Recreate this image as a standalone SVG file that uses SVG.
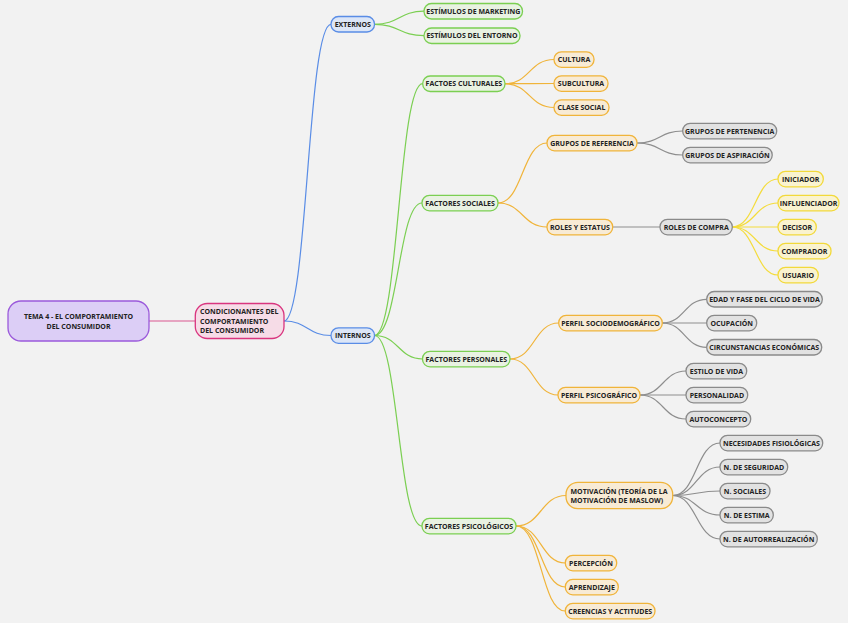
<svg xmlns="http://www.w3.org/2000/svg" width="848" height="623" viewBox="0 0 848 623">
<style>
text{font-family:"Open Sans","Liberation Sans",sans-serif;font-weight:700;font-size:7px;fill:#222;}
.c{text-anchor:middle;}
rect{stroke-width:1.3;}
.purple rect{fill:#dccef6;stroke:#9b5adb;}
.pink rect{fill:#f6dce7;stroke:#d9357f;}
.blue rect{fill:#dce6f7;stroke:#5a8de6;}
.green rect{fill:#e9f2e2;stroke:#7bcf52;}
.orange rect{fill:#f8ebd5;stroke:#f0b43a;}
.gray rect{fill:#e2e2e2;stroke:#8a8a8a;}
.yellow rect{fill:#faf3cf;stroke:#f2d93a;}
#connectors path{fill:none;stroke-width:1.2;}
.lp{stroke:#d9578f;}
.lb{stroke:#5a8de6;}
.lg{stroke:#7bcf52;}
.lo{stroke:#f0b43a;}
.lgr{stroke:#8e8e8e;}
.ly{stroke:#f4dc3c;}
</style>
<rect x="0" y="0" width="848" height="623" fill="#f2f2f2"/>
<g id="connectors">
<path class="lp" d="M149 321 L195.3 321"/>
<path class="lb" d="M284 321 C307.5 321 307.5 24.3 331 24.3"/>
<path class="lb" d="M284 321 C307.5 321 307.5 335.5 331 335.5"/>
<path class="lg" d="M374.5 24.3 C399.3 24.3 399.3 11.2 424 11.2"/>
<path class="lg" d="M374.5 24.3 C399.3 24.3 399.3 35.7 424 35.7"/>
<path class="lg" d="M374.5 335.5 C398.6 335.5 398.6 83.7 422.7 83.7"/>
<path class="lg" d="M374.5 335.5 C398.3 335.5 398.3 203 422 203"/>
<path class="lg" d="M374.5 335.5 C398.5 335.5 398.5 359 422.5 359"/>
<path class="lg" d="M374.5 335.5 C398.3 335.5 398.3 526 422 526"/>
<path class="lo" d="M505 83.7 C529.5 83.7 529.5 59.5 554 59.5"/>
<path class="lo" d="M505 83.7 C529.5 83.7 529.5 83.5 554 83.5"/>
<path class="lo" d="M505 83.7 C529.5 83.7 529.5 107.5 554 107.5"/>
<path class="lo" d="M498 203 C522.5 203 522.5 143 547 143"/>
<path class="lo" d="M498 203 C522.5 203 522.5 227 547 227"/>
<path class="lgr" d="M637 143 C659.9 143 659.9 131 682.7 131"/>
<path class="lgr" d="M637 143 C659.9 143 659.9 155 682.7 155"/>
<path class="lgr" d="M612.7 227 L660 227"/>
<path class="ly" d="M732.3 227 C755.2 227 755.2 179 778 179"/>
<path class="ly" d="M732.3 227 C755.2 227 755.2 203 778 203"/>
<path class="ly" d="M732.3 227 L778 227"/>
<path class="ly" d="M732.3 227 C755.2 227 755.2 251 778 251"/>
<path class="ly" d="M732.3 227 C755.2 227 755.2 275 778 275"/>
<path class="lo" d="M510 359 C534.3 359 534.3 323 558.7 323"/>
<path class="lo" d="M510 359 C534 359 534 395 558 395"/>
<path class="lgr" d="M662.3 323 C684.5 323 684.5 299.3 706.7 299.3"/>
<path class="lgr" d="M662.3 323 L706.7 323"/>
<path class="lgr" d="M662.3 323 C684.5 323 684.5 347.3 706.7 347.3"/>
<path class="lgr" d="M640 395 C663 395 663 371 686 371"/>
<path class="lgr" d="M640 395 L686 395"/>
<path class="lgr" d="M640 395 C663 395 663 419 686 419"/>
<path class="lo" d="M516 526 C541 526 541 495.5 566 495.5"/>
<path class="lo" d="M516 526 C541 526 541 563 565.3 563"/>
<path class="lo" d="M516 526 C541 526 541 587 565.3 587"/>
<path class="lo" d="M516 526 C541 526 541 611 565.3 611"/>
<path class="lgr" d="M672.7 495.5 C696.4 495.5 696.4 443 720 443"/>
<path class="lgr" d="M672.7 495.5 C696.4 495.5 696.4 467 720 467"/>
<path class="lgr" d="M672.7 495.5 C696.4 495.5 696.4 491 720 491"/>
<path class="lgr" d="M672.7 495.5 C696.4 495.5 696.4 515 720 515"/>
<path class="lgr" d="M672.7 495.5 C696.4 495.5 696.4 539 720 539"/>
</g>
<g id="root" class="purple"><rect x="8" y="301" width="141" height="40" rx="13"/><text class="c" x="78.5" y="318.5">TEMA 4 - EL COMPORTAMIENTO</text><text class="c" x="78.5" y="328.5">DEL CONSUMIDOR</text></g>
<g id="condicionantes" class="pink"><rect x="195.3" y="303.5" width="88.7" height="35" rx="12"/><text x="200" y="314">CONDICIONANTES DEL</text><text x="200" y="323.5">COMPORTAMIENTO</text><text x="200" y="332.8">DEL CONSUMIDOR</text></g>
<g id="externos" class="blue"><rect x="331" y="16.5" width="43.5" height="15.5" rx="7.5"/><text class="c" x="352.8" y="26.8">EXTERNOS</text></g>
<g id="internos" class="blue"><rect x="331" y="327.8" width="43.5" height="15.5" rx="7.5"/><text class="c" x="352.8" y="338">INTERNOS</text></g>
<g id="estimulos-marketing" class="green"><rect x="424" y="3.5" width="98.5" height="15.5" rx="7.5"/><text class="c" x="473.3" y="13.7">ESTÍMULOS DE MARKETING</text></g>
<g id="estimulos-entorno" class="green"><rect x="424" y="28" width="96" height="15.5" rx="7.5"/><text class="c" x="472" y="38.2">ESTÍMULOS DEL ENTORNO</text></g>
<g id="factores-culturales" class="green"><rect x="422.7" y="76" width="82.3" height="15.5" rx="7.5"/><text class="c" x="463.9" y="86.2">FACTOES CULTURALES</text></g>
<g id="cultura" class="orange"><rect x="554" y="51.8" width="40" height="15.5" rx="7.5"/><text class="c" x="574" y="62">CULTURA</text></g>
<g id="subcultura" class="orange"><rect x="554" y="75.8" width="54" height="15.5" rx="7.5"/><text class="c" x="581" y="86">SUBCULTURA</text></g>
<g id="clase-social" class="orange"><rect x="554" y="99.8" width="55" height="15.5" rx="7.5"/><text class="c" x="581.5" y="110">CLASE SOCIAL</text></g>
<g id="factores-sociales" class="green"><rect x="422" y="195.3" width="76" height="15.5" rx="7.5"/><text class="c" x="460" y="205.5">FACTORES SOCIALES</text></g>
<g id="grupos-referencia" class="orange"><rect x="547" y="135.3" width="90" height="15.5" rx="7.5"/><text class="c" x="592" y="145.5">GRUPOS DE REFERENCIA</text></g>
<g id="grupos-pertenencia" class="gray"><rect x="682.7" y="123.3" width="94" height="15.5" rx="7.5"/><text class="c" x="729.7" y="133.5">GRUPOS DE PERTENENCIA</text></g>
<g id="grupos-aspiracion" class="gray"><rect x="682.7" y="147.3" width="89.5" height="15.5" rx="7.5"/><text class="c" x="727.5" y="157.5">GRUPOS DE ASPIRACIÓN</text></g>
<g id="roles-estatus" class="orange"><rect x="547" y="219.3" width="65.7" height="15.5" rx="7.5"/><text class="c" x="579.9" y="229.5">ROLES Y ESTATUS</text></g>
<g id="roles-compra" class="gray"><rect x="660" y="219.3" width="72.3" height="15.5" rx="7.5"/><text class="c" x="696.2" y="229.5">ROLES DE COMPRA</text></g>
<g id="iniciador" class="yellow"><rect x="778" y="171.3" width="45.3" height="15.5" rx="7.5"/><text class="c" x="800.7" y="181.5">INICIADOR</text></g>
<g id="influenciador" class="yellow"><rect x="778" y="195.3" width="61" height="15.5" rx="7.5"/><text class="c" x="808.5" y="205.5">INFLUENCIADOR</text></g>
<g id="decisor" class="yellow"><rect x="778" y="219.3" width="38.3" height="15.5" rx="7.5"/><text class="c" x="797.2" y="229.5">DECISOR</text></g>
<g id="comprador" class="yellow"><rect x="778" y="243.3" width="53" height="15.5" rx="7.5"/><text class="c" x="804.5" y="253.5">COMPRADOR</text></g>
<g id="usuario" class="yellow"><rect x="778" y="267.3" width="40.3" height="15.5" rx="7.5"/><text class="c" x="798.2" y="277.5">USUARIO</text></g>
<g id="factores-personales" class="green"><rect x="422.5" y="351.3" width="87.5" height="15.5" rx="7.5"/><text class="c" x="466.3" y="361.5">FACTORES PERSONALES</text></g>
<g id="perfil-sociodemografico" class="orange"><rect x="558.7" y="315.3" width="103.6" height="15.5" rx="7.5"/><text class="c" x="610.5" y="325.5">PERFIL SOCIODEMOGRÁFICO</text></g>
<g id="edad" class="gray"><rect x="706.7" y="291.5" width="115.6" height="15.5" rx="7.5"/><text class="c" x="764.5" y="301.7">EDAD Y FASE DEL CICLO DE VIDA</text></g>
<g id="ocupacion" class="gray"><rect x="706.7" y="315.3" width="50" height="15.5" rx="7.5"/><text class="c" x="731.7" y="325.5">OCUPACIÓN</text></g>
<g id="circunstancias" class="gray"><rect x="706.7" y="339.5" width="115" height="15.5" rx="7.5"/><text class="c" x="764.2" y="349.7">CIRCUNSTANCIAS ECONÓMICAS</text></g>
<g id="perfil-psicografico" class="orange"><rect x="558" y="387.3" width="82" height="15.5" rx="7.5"/><text class="c" x="599" y="397.5">PERFIL PSICOGRÁFICO</text></g>
<g id="estilo-vida" class="gray"><rect x="686" y="363.3" width="60.7" height="15.5" rx="7.5"/><text class="c" x="716.4" y="373.5">ESTILO DE VIDA</text></g>
<g id="personalidad" class="gray"><rect x="686" y="387.3" width="61.7" height="15.5" rx="7.5"/><text class="c" x="716.9" y="397.5">PERSONALIDAD</text></g>
<g id="autoconcepto" class="gray"><rect x="686" y="411.3" width="64.7" height="15.5" rx="7.5"/><text class="c" x="718.4" y="421.5">AUTOCONCEPTO</text></g>
<g id="factores-psicologicos" class="green"><rect x="422" y="518.3" width="94" height="15.5" rx="7.5"/><text class="c" x="469" y="528.5">FACTORES PSICOLÓGICOS</text></g>
<g id="motivacion" class="orange"><rect x="566" y="482.3" width="106.7" height="26.4" rx="12"/><text x="570.5" y="493.5">MOTIVACIÓN (TEORÍA DE LA</text><text x="570.5" y="503">MOTIVACIÓN DE MASLOW)</text></g>
<g id="necesidades-fisiologicas" class="gray"><rect x="720" y="435.3" width="102.7" height="15.5" rx="7.5"/><text class="c" x="771.4" y="445.5">NECESIDADES FISIOLÓGICAS</text></g>
<g id="seguridad" class="gray"><rect x="720" y="459.3" width="67.7" height="15.5" rx="7.5"/><text class="c" x="753.9" y="469.5">N. DE SEGURIDAD</text></g>
<g id="sociales" class="gray"><rect x="720" y="483.3" width="50" height="15.5" rx="7.5"/><text class="c" x="745" y="493.5">N. SOCIALES</text></g>
<g id="estima" class="gray"><rect x="720" y="507.3" width="53.3" height="15.5" rx="7.5"/><text class="c" x="746.7" y="517.5">N. DE ESTIMA</text></g>
<g id="autorrealizacion" class="gray"><rect x="720" y="531.3" width="97.3" height="15.5" rx="7.5"/><text class="c" x="768.7" y="541.5">N. DE AUTORREALIZACIÓN</text></g>
<g id="percepcion" class="orange"><rect x="565.3" y="555.3" width="51.4" height="15.5" rx="7.5"/><text class="c" x="591" y="565.5">PERCEPCIÓN</text></g>
<g id="aprendizaje" class="orange"><rect x="565.3" y="579.3" width="53" height="15.5" rx="7.5"/><text class="c" x="591.8" y="589.5">APRENDIZAJE</text></g>
<g id="creencias" class="orange"><rect x="565.3" y="603.3" width="89.7" height="15.5" rx="7.5"/><text class="c" x="610.2" y="613.5">CREENCIAS Y ACTITUDES</text></g>
</svg>
